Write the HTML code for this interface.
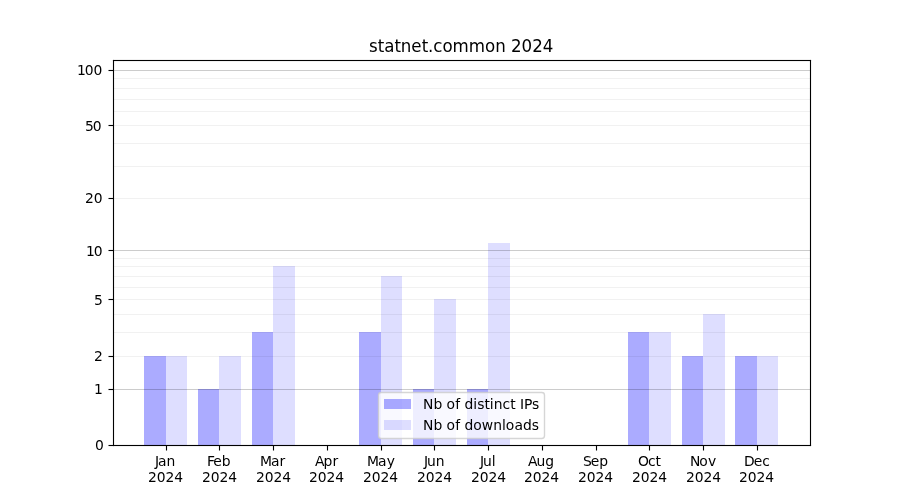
<!DOCTYPE html>
<html lang="en">
<head>
<meta charset="utf-8">
<title>statnet.common 2024</title>
<style>
html,body{margin:0;padding:0;background:#fff;}
body{width:900px;height:500px;overflow:hidden;}
svg{display:block;}
text{font-family:"DejaVu Sans","Liberation Sans",sans-serif;font-size:13.889px;fill:#000;}
.t{font-size:16.667px;}

.e{text-anchor:end;}
.m{text-anchor:middle;}
</style>
</head>
<body>
<svg width="900" height="500" viewBox="0 0 900 500">
<rect x="0" y="0" width="900" height="500" fill="#fff"/>
<g fill="#0000ff" fill-opacity="0.33" shape-rendering="crispEdges">
<rect x="144" y="356" width="22" height="89"/>
<rect x="198" y="389" width="21" height="56"/>
<rect x="252" y="332" width="21" height="113"/>
<rect x="359" y="332" width="22" height="113"/>
<rect x="413" y="389" width="21" height="56"/>
<rect x="467" y="389" width="21" height="56"/>
<rect x="628" y="332" width="21" height="113"/>
<rect x="682" y="356" width="21" height="89"/>
<rect x="735" y="356" width="22" height="89"/>
</g>
<g fill="#0000ff" fill-opacity="0.13" shape-rendering="crispEdges">
<rect x="166" y="356" width="21" height="89"/>
<rect x="219" y="356" width="22" height="89"/>
<rect x="273" y="266" width="22" height="179"/>
<rect x="381" y="276" width="21" height="169"/>
<rect x="434" y="299" width="22" height="146"/>
<rect x="488" y="243" width="22" height="202"/>
<rect x="649" y="332" width="22" height="113"/>
<rect x="703" y="314" width="22" height="131"/>
<rect x="757" y="356" width="21" height="89"/>
</g>
<g fill="#000" shape-rendering="crispEdges">
<rect x="113" y="70" width="698" height="1" fill-opacity="0.2"/>
<rect x="113" y="78" width="698" height="1" fill-opacity="0.055"/>
<rect x="113" y="88" width="698" height="1" fill-opacity="0.055"/>
<rect x="113" y="99" width="698" height="1" fill-opacity="0.055"/>
<rect x="113" y="111" width="698" height="1" fill-opacity="0.055"/>
<rect x="113" y="125" width="698" height="1" fill-opacity="0.055"/>
<rect x="113" y="143" width="698" height="1" fill-opacity="0.055"/>
<rect x="113" y="166" width="698" height="1" fill-opacity="0.055"/>
<rect x="113" y="198" width="698" height="1" fill-opacity="0.055"/>
<rect x="113" y="250" width="698" height="1" fill-opacity="0.2"/>
<rect x="113" y="258" width="698" height="1" fill-opacity="0.055"/>
<rect x="113" y="266" width="698" height="1" fill-opacity="0.055"/>
<rect x="113" y="276" width="698" height="1" fill-opacity="0.055"/>
<rect x="113" y="287" width="698" height="1" fill-opacity="0.055"/>
<rect x="113" y="299" width="698" height="1" fill-opacity="0.055"/>
<rect x="113" y="314" width="698" height="1" fill-opacity="0.055"/>
<rect x="113" y="332" width="698" height="1" fill-opacity="0.055"/>
<rect x="113" y="356" width="698" height="1" fill-opacity="0.055"/>
<rect x="113" y="389" width="698" height="1" fill-opacity="0.2"/>
</g>
<g fill="#000">
<rect x="112.9445" y="59.9445" width="698.1110" height="1.111"/>
<rect x="112.9445" y="444.9445" width="698.1110" height="1.111"/>
<rect x="112.9445" y="59.9445" width="1.111" height="386.1110"/>
<rect x="809.9445" y="59.9445" width="1.111" height="386.1110"/>
<rect x="165.9445" y="445.5" width="1.111" height="5"/>
<rect x="218.9445" y="445.5" width="1.111" height="5"/>
<rect x="272.9445" y="445.5" width="1.111" height="5"/>
<rect x="326.9445" y="445.5" width="1.111" height="5"/>
<rect x="380.9445" y="445.5" width="1.111" height="5"/>
<rect x="433.9445" y="445.5" width="1.111" height="5"/>
<rect x="487.9445" y="445.5" width="1.111" height="5"/>
<rect x="541.9445" y="445.5" width="1.111" height="5"/>
<rect x="595.9445" y="445.5" width="1.111" height="5"/>
<rect x="648.9445" y="445.5" width="1.111" height="5"/>
<rect x="702.9445" y="445.5" width="1.111" height="5"/>
<rect x="756.9445" y="445.5" width="1.111" height="5"/>
<rect x="108.5" y="444.9445" width="5" height="1.111"/>
<rect x="108.5" y="388.9445" width="5" height="1.111"/>
<rect x="108.5" y="355.9445" width="5" height="1.111"/>
<rect x="108.5" y="298.9445" width="5" height="1.111"/>
<rect x="108.5" y="249.9445" width="5" height="1.111"/>
<rect x="108.5" y="197.9445" width="5" height="1.111"/>
<rect x="108.5" y="124.9445" width="5" height="1.111"/>
<rect x="108.5" y="69.9445" width="5" height="1.111"/>
</g>
<text class="t" transform="matrix(1 0 0 1.06 0 52)" x="369.007 377.68 384.201 394.406 400.676 411.23 421.73 428 433.292 442.451 452.579 468.851 485.076 495.266 505.819 511.111 521.57 532.295 542.691" y="0">statnet.common 2024</text>
<text x="94.952" y="450">0</text>
<text x="93.952" y="394">1</text>
<text x="93.952" y="361">2</text>
<text x="93.952" y="305">5</text>
<text x="85.999 93.811" y="256">10</text>
<text x="84.999 93.811" y="203">20</text>
<text x="84.999 92.811" y="131">50</text>
<text x="76.921 84.733 93.561" y="75">100</text>
<text x="154.88 158.083 166.598" y="466">Jan</text>
<text x="148.039 156.726 165.554 174.258" y="482">2024</text>
<text x="206.896 213.24 221.771" y="466">Feb</text>
<text x="201.904 210.716 219.544 228.372" y="482">2024</text>
<text x="259.956 271.05 279.55" y="466">Mar</text>
<text x="255.894 264.706 273.534 282.362" y="482">2024</text>
<text x="314.902 323.512 332.387" y="466">Apr</text>
<text x="308.999 317.686 326.514 335.342" y="482">2024</text>
<text x="366.926 378.02 386.645" y="466">May</text>
<text x="362.989 371.676 380.504 389.332" y="482">2024</text>
<text x="423.916 426.994 435.791" y="466">Jun</text>
<text x="416.979 425.791 434.494 443.323" y="482">2024</text>
<text x="480.12 483.073 491.87" y="466">Jul</text>
<text x="470.959 479.771 488.474 497.302" y="482">2024</text>
<text x="527.933 536.417 545.152" y="466">Aug</text>
<text x="523.949 532.761 541.464 550.292" y="482">2024</text>
<text x="582.892 590.689 599.236" y="466">Sep</text>
<text x="577.939 586.751 595.454 604.282" y="482">2024</text>
<text x="638.013 647.919 655.434" y="466">Oct</text>
<text x="631.924 640.736 649.564 658.268" y="482">2024</text>
<text x="690.018 699.268 707.878" y="466">Nov</text>
<text x="685.904 694.716 703.544 712.372" y="482">2024</text>
<text x="743.875 753.797 762.219" y="466">Dec</text>
<text x="738.894 747.706 756.534 765.362" y="482">2024</text>
<rect x="378.5" y="392.5" width="166" height="46" rx="2.78" ry="2.78" fill="#fff" fill-opacity="0.8" stroke="#cccccc" stroke-opacity="0.8" stroke-width="1.389"/>
<rect x="384" y="399" width="27" height="10" fill="#0000ff" fill-opacity="0.33" shape-rendering="crispEdges"/>
<rect x="384" y="420" width="27" height="10" fill="#0000ff" fill-opacity="0.13" shape-rendering="crispEdges"/>
<text x="422.945 433.445 442.242 446.601 455.148 460.039 464.383 473.32 477.164 484.398 489.836 493.758 502.429 510.179 515.492 519.898 524.117 532.117" y="409">Nb of distinct IPs</text>
<text x="422.945 433.445 442.242 446.601 455.148 460.039 464.57 473.258 481.867 493.211 502.008 505.742 514.476 522.976 531.789" y="430">Nb of downloads</text>
</svg>
</body>
</html>
